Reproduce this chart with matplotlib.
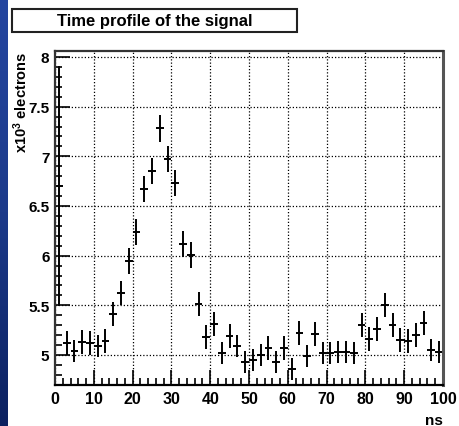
import numpy as np
import matplotlib
matplotlib.use('Agg')
from matplotlib import pyplot as plt
from matplotlib.patches import Rectangle
from matplotlib.ticker import MultipleLocator, FixedLocator, FixedFormatter

# bin centres (ns), 2 ns bins
t = np.arange(1, 100, 2)

# signal in units of 10^3 electrons
signal = [6.70, 5.12, 5.04, 5.13, 5.12, 5.09, 5.14, 5.41, 5.62, 5.95,
          6.24, 6.67, 6.85, 7.28, 6.97, 6.73, 6.12, 6.01, 5.51, 5.18,
          5.31, 5.02, 5.19, 5.09, 4.93, 4.95, 5.00, 5.07, 4.93, 5.07,
          4.86, 5.22, 4.99, 5.21, 5.02, 5.02, 5.03, 5.03, 5.02, 5.30,
          5.16, 5.26, 5.50, 5.30, 5.15, 5.14, 5.20, 5.32, 5.05, 5.03]

errors = [1.21, 0.12, 0.11, 0.12, 0.12, 0.11, 0.12, 0.12, 0.12, 0.13,
          0.13, 0.13, 0.13, 0.14, 0.13, 0.13, 0.13, 0.13, 0.12, 0.12,
          0.12, 0.11, 0.12, 0.11, 0.11, 0.11, 0.11, 0.12, 0.11, 0.12,
          0.11, 0.12, 0.11, 0.12, 0.11, 0.11, 0.11, 0.11, 0.11, 0.12,
          0.12, 0.12, 0.12, 0.12, 0.12, 0.12, 0.12, 0.12, 0.11, 0.11]

y_ticks = [5, 5.5, 6, 6.5, 7, 7.5, 8]
y_tick_labels = ['5', '5.5', '6', '6.5', '7', '7.5', '8']

plt.rcParams['font.family'] = ['Liberation Sans', 'DejaVu Sans']
plt.rcParams['font.weight'] = 'bold'
plt.rcParams['mathtext.fontset'] = 'custom'
plt.rcParams['mathtext.rm'] = 'Liberation Sans:bold'
plt.rcParams['mathtext.it'] = 'Liberation Sans:bold'
plt.rcParams['mathtext.bf'] = 'Liberation Sans:bold'

W, H = 459, 427
fig = plt.figure(figsize=(W / 100, H / 100), dpi=100)

# blue slide edge on the left
strip = fig.add_axes([0, 0, 7.5 / W, 1])
grad = np.linspace(0, 1, 256).reshape(-1, 1)
strip.imshow(grad, aspect='auto', cmap=matplotlib.colors.LinearSegmentedColormap.from_list(
    'edge', ['#2546a0', '#1c3a8a', '#0c2160']), extent=[0, 1, 0, 1], origin='upper')
strip.axis('off')

ax = fig.add_axes([55 / W, 1 - 386 / H, (443 - 55) / W, (386 - 52) / H])
ax.errorbar(t, signal, xerr=1, yerr=errors, fmt='none', ecolor='black',
            elinewidth=1.4, capsize=0)

ax.set_xlim(0, 100)
ax.set_ylim(4.698, 8.06)

ax.xaxis.set_major_locator(MultipleLocator(10))
ax.xaxis.set_minor_locator(MultipleLocator(2))
ax.yaxis.set_major_locator(FixedLocator(y_ticks))
ax.yaxis.set_major_formatter(FixedFormatter(y_tick_labels))
ax.yaxis.set_minor_locator(MultipleLocator(0.1))

ax.tick_params(which='both', direction='in', top=False, right=False,
               color='black', width=1.2)
ax.tick_params(axis='x', labelsize=11.5)
ax.tick_params(axis='y', labelsize=11)
ax.tick_params(which='major', length=11, pad=4)
ax.tick_params(which='minor', length=5)
for lab in ax.get_xticklabels() + ax.get_yticklabels():
    lab.set_fontweight('bold')

ax.grid(True, which='major', color='black', linestyle=(0, (1, 1.6)), linewidth=0.9)

for side in ['left', 'top']:
    ax.spines[side].set_linewidth(1.6)
    ax.spines[side].set_color('#333333')
ax.spines['bottom'].set_linewidth(1.6)
ax.spines['bottom'].set_color('black')
ax.spines['right'].set_linewidth(2.2)
ax.spines['right'].set_color('#555555')

# axis titles
fig.text(443 / W, 1 - 421 / H, 'ns', ha='right', va='center',
         fontsize=11, fontweight='bold')
fig.text(21 / W, 1 - 52 / H, r'x10$^{3}$ electrons', ha='center', va='top',
         rotation=90, fontsize=10.5, fontweight='bold')

# title box
fig.patches.append(Rectangle((12 / W, 1 - 33 / H), (297 - 12) / W, 23 / H,
                             transform=fig.transFigure, facecolor='white',
                             edgecolor='#222222', linewidth=1.5))
fig.text(155 / W, 1 - 21.5 / H, 'Time profile of the signal', ha='center',
         va='center', fontsize=12, fontweight='bold')

fig.savefig('out.png', dpi=100)
